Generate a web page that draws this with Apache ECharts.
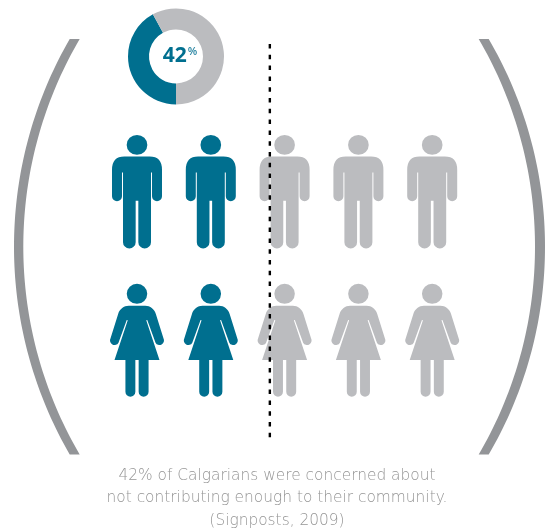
<!DOCTYPE html>
<html>
<head>
<meta charset="utf-8">
<style>html,body{margin:0;padding:0;background:#fff}#chart{width:551px;height:529px}</style>
<script src="https://cdn.jsdelivr.net/npm/echarts@6/dist/echarts.min.js"></script>
</head>
<body>
<div id="chart"></div>
<script>
// Share of Calgarians concerned about not contributing enough
const concernedShare = 42;
const otherShare = 58;
const shareLabel = '42';
const captionLines = [
  '42% of Calgarians were concerned about',
  'not contributing enough to their community.',
  '(Signposts, 2009)'
];
// Pictogram rows: 1 = highlighted figure, 0 = muted figure
const menRow = [1, 1, 0, 0, 0];
const womenRow = [1, 1, 0, 0, 0];
// Position of the dotted divider along the five-figure row
const dividerAt = 2.3;

const TEAL = '#006F8F';
const MUTED = '#BBBCBF';
const BRACKET = '#939598';

const manPath = 'M72 470 L148 470 Q185 470 185 510 L185 590 A15 15 0 0 1 155 590 L155 518 L152 518 L152 728 A18 18 0 0 1 114 728 L114 603 L106 603 L106 728 A18 18 0 0 1 68 728 L68 518 L65 518 L65 590 A15 15 0 0 1 35 590 L35 510 Q35 470 72 470 Z M141 435 A31 30 0 1 1 79 435 A31 30 0 1 1 141 435 Z';
const womanPath = 'M85 108 L135 108 C150 108 162 118 167 132 L190 205 A13 13 0 0 1 166 218 L141 150 L138 151 L178 270 L145 270 L145 365 A15 15 0 0 1 115 365 L115 270 L105 270 L105 365 A15 15 0 0 1 75 365 L75 270 L42 270 L82 151 L79 150 L54 218 A13 13 0 0 1 30 205 L53 132 C58 118 70 108 85 108 Z M141 72 A31 30 0 1 1 79 72 A31 30 0 1 1 141 72 Z';

function figureSeries(row, rowY, path, size) {
  return {
    type: 'scatter',
    symbol: 'path://' + path,
    symbolSize: size,
    silent: true,
    clip: false,
    z: 2,
    data: row.map((on, i) => ({
      value: [i + 0.5, rowY],
      itemStyle: { color: on ? TEAL : MUTED, opacity: 1 }
    }))
  };
}

// Curved bracket outline: a band between two circular arcs with flat horizontal ends
function bracketPoints(outerEnd, outerMid, innerEnd, innerMid, yTop, yBottom) {
  const yc = (yTop + yBottom) / 2, half = (yBottom - yTop) / 2;
  const edge = (xEnd, xMid) => {
    const sag = xEnd - xMid;
    const r = (half * half + sag * sag) / (2 * sag);
    const pts = [];
    for (let k = 0; k <= 80; k++) {
      const y = yTop + (yBottom - yTop) * k / 80;
      pts.push([xMid + r - Math.sign(r) * Math.sqrt(r * r - (y - yc) * (y - yc)), y]);
    }
    return pts;
  };
  return edge(outerEnd, outerMid).concat(edge(innerEnd, innerMid).reverse());
}

const chart = echarts.init(document.getElementById('chart'), null, { renderer: 'canvas' });
chart.setOption({
  animation: false,
  backgroundColor: '#fff',
  grid: { left: 100.1, top: 117.4, width: 369, height: 297.2 },
  xAxis: { type: 'value', min: 0, max: 5, show: false },
  yAxis: { type: 'value', min: 0, max: 2, show: false },
  title: {
    text: captionLines.join('\n'),
    left: 277,
    top: 464.5,
    padding: 0,
    textAlign: 'center',
    textStyle: {
      fontFamily: '"DejaVu Sans ExtraLight", "DejaVu Sans"',
      fontWeight: 200,
      fontSize: 15.4,
      lineHeight: 22.5,
      color: '#959595'
    }
  },
  graphic: [
    {
      type: 'polygon', silent: true, z: 1,
      shape: { points: bracketPoints(69.7, 14, 79.7, 23.3, 39, 454.5) },
      style: { fill: BRACKET }
    },
    {
      type: 'polygon', silent: true, z: 1,
      shape: { points: bracketPoints(488.7, 545, 478.7, 535, 39, 454.5) },
      style: { fill: BRACKET }
    }
  ],
  series: [
    {
      type: 'pie',
      center: [176, 56.4],
      radius: [27, 48],
      startAngle: 270,
      clockwise: true,
      silent: true,
      label: {
        show: true,
        position: 'center',
        offset: [4, 0],
        formatter: () => '{big|' + shareLabel + '}{small|%}',
        rich: {
          big: { fontFamily: 'Open Sans', fontWeight: 700, fontSize: 21, color: TEAL },
          small: { fontFamily: 'Open Sans', fontWeight: 600, fontSize: 11, color: '#2A86A3', verticalAlign: 'top', padding: [0, 0, 3, 1] }
        }
      },
      labelLine: { show: false },
      data: [
        { value: concernedShare, itemStyle: { color: TEAL }, label: { show: true } },
        { value: otherShare, itemStyle: { color: MUTED }, label: { show: false } }
      ],
      emphasis: { disabled: true }
    },
    figureSeries(menRow, 1.5, manPath, [50, 113.5]),
    figureSeries(womenRow, 0.5, womanPath, [54, 113]),
    {
      type: 'line',
      silent: true,
      clip: false,
      symbol: 'none',
      z: 5,
      lineStyle: { color: '#000', width: 2.4, type: [4.5, 6.3] },
      data: [[dividerAt, 2.494], [dividerAt, -0.184]]
    }
  ]
});
</script>
</body>
</html>
